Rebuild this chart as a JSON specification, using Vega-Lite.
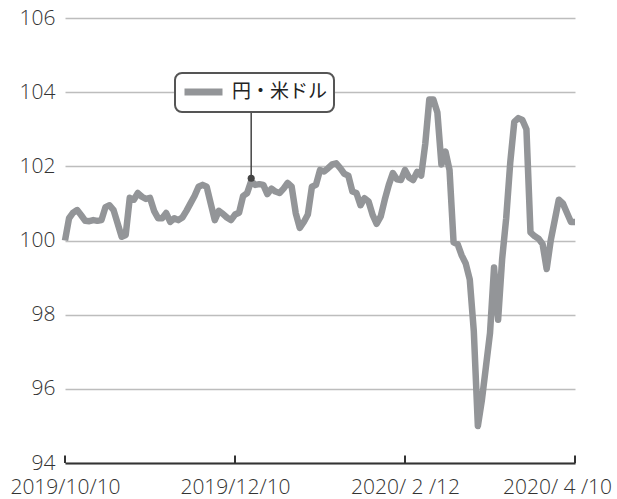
{
  "$schema": "https://vega.github.io/schema/vega-lite/v6.json",
  "width": 510,
  "height": 445,
  "autosize": {"type": "none"},
  "padding": {"left": 65, "top": 18, "right": 42, "bottom": 36},
  "config": {"view": {"stroke": null}, "font": "Noto Sans CJK JP", "legend": {"strokeWidth": 2}},
  "datasets": {
    "fx": [
      {"i":0,"v":100.0},{"i":1,"v":100.6},{"i":2,"v":100.75},{"i":3,"v":100.82},{"i":4,"v":100.68},
      {"i":5,"v":100.53},{"i":6,"v":100.52},{"i":7,"v":100.55},{"i":8,"v":100.53},{"i":9,"v":100.55},
      {"i":10,"v":100.9},{"i":11,"v":100.95},{"i":12,"v":100.82},{"i":14,"v":100.1},{"i":15,"v":100.15},
      {"i":16,"v":101.15},{"i":17,"v":101.1},{"i":18,"v":101.28},{"i":19,"v":101.18},{"i":20,"v":101.12},
      {"i":21,"v":101.15},{"i":22,"v":100.8},{"i":23,"v":100.6},{"i":24,"v":100.6},{"i":25,"v":100.74},
      {"i":26,"v":100.5},{"i":27,"v":100.6},{"i":28,"v":100.55},{"i":29,"v":100.62},{"i":30,"v":100.8},
      {"i":31,"v":101.0},{"i":32,"v":101.2},{"i":33,"v":101.45},{"i":34,"v":101.5},{"i":35,"v":101.45},
      {"i":36,"v":101.0},{"i":37,"v":100.55},{"i":38,"v":100.8},{"i":39,"v":100.72},{"i":40,"v":100.62},
      {"i":41,"v":100.55},{"i":42,"v":100.7},{"i":43,"v":100.75},{"i":44,"v":101.2},{"i":45,"v":101.28},
      {"i":46,"v":101.6},{"i":47,"v":101.5},{"i":48,"v":101.52},{"i":49,"v":101.5},{"i":50,"v":101.25},
      {"i":51,"v":101.4},{"i":52,"v":101.32},{"i":53,"v":101.28},{"i":54,"v":101.4},{"i":55,"v":101.55},
      {"i":56,"v":101.45},{"i":57,"v":100.74},{"i":58,"v":100.34},{"i":59,"v":100.5},{"i":60,"v":100.7},
      {"i":61,"v":101.45},{"i":62,"v":101.5},{"i":63,"v":101.9},{"i":64,"v":101.86},{"i":65,"v":101.95},
      {"i":66,"v":102.05},{"i":67,"v":102.08},{"i":68,"v":101.95},{"i":69,"v":101.8},{"i":70,"v":101.75},
      {"i":71,"v":101.32},{"i":72,"v":101.28},{"i":73,"v":100.95},{"i":74,"v":101.14},{"i":75,"v":101.05},
      {"i":76,"v":100.69},{"i":77,"v":100.45},{"i":78,"v":100.65},{"i":79,"v":101.1},{"i":80,"v":101.5},
      {"i":81,"v":101.82},{"i":82,"v":101.65},{"i":83,"v":101.63},{"i":84,"v":101.9},{"i":85,"v":101.7},
      {"i":86,"v":101.63},{"i":87,"v":101.85},{"i":88,"v":101.75},{"i":89,"v":102.6},{"i":90,"v":103.8},
      {"i":91,"v":103.8},{"i":92,"v":103.45},{"i":93,"v":102.05},{"i":94,"v":102.4},{"i":95,"v":101.9},
      {"i":96,"v":99.95},{"i":97,"v":99.9},{"i":98,"v":99.6},{"i":99,"v":99.38},{"i":100,"v":98.95},
      {"i":101,"v":97.55},{"i":102,"v":95.0},{"i":103,"v":95.7},{"i":104,"v":96.6},{"i":105,"v":97.5},
      {"i":106,"v":99.27},{"i":107,"v":97.86},{"i":108,"v":99.5},{"i":109,"v":100.6},{"i":110,"v":102.1},
      {"i":111,"v":103.2},{"i":112,"v":103.3},{"i":113,"v":103.25},{"i":114,"v":103.0},{"i":115,"v":100.22},
      {"i":116,"v":100.12},{"i":117,"v":100.05},{"i":118,"v":99.9},{"i":119,"v":99.23},{"i":120,"v":100.0},
      {"i":121,"v":100.55},{"i":122,"v":101.1},{"i":123,"v":101.0},{"i":124,"v":100.75},{"i":125,"v":100.5},
      {"i":126,"v":100.5}
    ],
    "note": [{"i":46,"v":101.68,"v2":103.65}],
    "ticks": [{"i":0},{"i":42},{"i":84},{"i":126}]
  },
  "layer": [
    {
      "data": {"name": "fx"},
      "mark": {"type": "line", "strokeWidth": 6.5, "strokeJoin": "round"},
      "encoding": {
        "x": {
          "field": "i", "type": "quantitative",
          "scale": {"domain": [0, 126], "nice": false, "zero": false},
          "axis": {
            "values": [0, 42, 84, 126],
            "labelExpr": "datum.value == 0 ? '2019/10/10' : datum.value == 42 ? '2019/12/10' : datum.value == 84 ? '2020/ 2 /12' : '2020/ 4 /10'",
            "grid": false, "title": null, "ticks": false,
            "domainColor": "#333", "domainWidth": 2,
            "labelPadding": 30, "labelBaseline": "alphabetic",
            "labelFont": "Open Sans", "labelFontWeight": 300,
            "labelFontSize": 21, "labelColor": "#333",
            "labelAlign": "center", "labelFlush": false, "labelOverlap": false, "labelBound": false,
            "labelOffset": {"expr": "datum.value == 126 ? -18 : 0"}
          }
        },
        "y": {
          "field": "v", "type": "quantitative",
          "scale": {"domain": [94, 106], "nice": false, "zero": false},
          "axis": {
            "values": [94, 96, 98, 100, 102, 104, 106],
            "grid": true, "gridColor": "#bdbdbd", "gridWidth": 1.5,
            "domain": false, "ticks": false, "title": null,
            "labelPadding": 10, "labelFont": "Open Sans", "labelFontWeight": 300,
            "labelFontSize": 21, "labelColor": "#333"
          }
        },
        "color": {
          "datum": "円・米ドル", "type": "nominal",
          "scale": {"range": ["#939598"]},
          "legend": {
            "title": null, "orient": "none", "legendX": 110, "legendY": 55,
            "symbolType": "M-1,0H3", "symbolStrokeWidth": 7, "symbolSize": 361,
            "labelFontSize": 19, "labelColor": "#222", "labelOffset": 25,
            "strokeColor": "#555", "cornerRadius": 7, "fillColor": "white", "padding": 6
          }
        }
      }
    },
    {
      "data": {"name": "ticks"},
      "mark": {"type": "rule", "color": "#333", "strokeWidth": 2},
      "encoding": {
        "x": {"field": "i", "type": "quantitative"},
        "y": {"datum": 94},
        "y2": {"datum": 94.2}
      }
    },
    {
      "data": {"name": "note"},
      "mark": {"type": "rule", "color": "#444", "strokeWidth": 1.5},
      "encoding": {
        "x": {"field": "i", "type": "quantitative"},
        "y": {"field": "v", "type": "quantitative"},
        "y2": {"field": "v2"}
      }
    },
    {
      "data": {"name": "note"},
      "mark": {"type": "point", "filled": true, "color": "#444", "size": 50, "opacity": 1},
      "encoding": {
        "x": {"field": "i", "type": "quantitative"},
        "y": {"field": "v", "type": "quantitative"}
      }
    }
  ]
}
